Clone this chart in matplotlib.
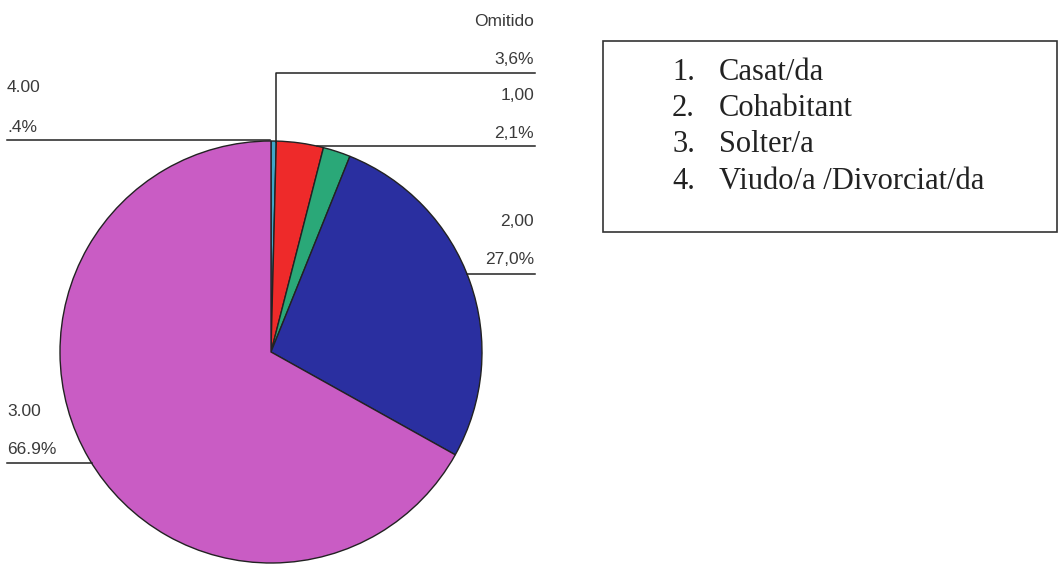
import numpy as np
import matplotlib.pyplot as plt
from matplotlib.patches import Rectangle

# slices in drawing order, clockwise from 12 o'clock
codes = ["4.00", "Omitido", "1,00", "2,00", "3.00"]
pct_labels = [".4%", "3,6%", "2,1%", "27,0%", "66.9%"]
values = [0.4, 3.6, 2.1, 27.0, 66.9]
colors = ["#3fa6c8", "#ee2a2a", "#2aa878", "#2a2fa0", "#c95cc4"]

legend_nums = ["1.", "2.", "3.", "4."]
legend_text = ["Casat/da", "Cohabitant", "Solter/a", "Viudo/a /Divorciat/da"]

W, H = 1060, 567
fig = plt.figure(figsize=(W / 100, H / 100), dpi=100)
ax = fig.add_axes([0, 0, 1, 1])


def py(y):
    # pixel row -> data y
    return H - y


cx, cy, r = 271, py(352), 211
ax.pie(values, colors=colors, startangle=90, counterclock=False,
       center=(cx, cy), radius=r,
       wedgeprops=dict(edgecolor="#222222", linewidth=1.0))
ax.set_xlim(0, W)
ax.set_ylim(0, H)
ax.set_aspect("equal")
ax.axis("off")

lab = dict(fontsize=12.5, family="Liberation Sans", color="#3a3a3a")
lc = dict(color="#222222", lw=1.1)
xr = 535  # right end of right-hand leader lines


def edge_x(y, side):
    # x on the pie outline at data height y
    dy = y - cy
    dx = np.sqrt(max(r * r - dy * dy, 0))
    return cx + side * dx


def right_label(code, pct, y_code, y_pct):
    ax.text(xr - 1, py(y_code), code, ha="right", va="center", **lab)
    ax.text(xr - 1, py(y_pct), pct, ha="right", va="center", **lab)


def left_label(code, pct, y_code, y_pct):
    ax.text(7, py(y_code), code, ha="left", va="center", **lab)
    ax.text(7, py(y_pct), pct, ha="left", va="center", **lab)


# Omitido: rises from the top of the pie, then runs right
x_om = cx + 5
ax.plot([x_om, x_om, xr], [py(142), py(73), py(73)], **lc)
right_label(codes[1], pct_labels[1], 22, 60)

# 1,00
ax.plot([edge_x(py(146), 1), xr], [py(146), py(146)], **lc)
right_label(codes[2], pct_labels[2], 96, 133)

# 4.00
ax.plot([7, cx - 1], [py(140), py(140)], **lc)
left_label(codes[0], pct_labels[0], 87, 128)

# 2,00
ax.plot([edge_x(py(274), 1), xr], [py(274), py(274)], **lc)
right_label(codes[3], pct_labels[3], 222, 259)

# 3.00
ax.plot([7, edge_x(py(463), -1)], [py(463), py(463)], **lc)
left_label(codes[4], pct_labels[4], 412, 449)

# legend box
ax.add_patch(Rectangle((603, py(232)), 454, 191, fill=False,
                       edgecolor="#333333", lw=1.2))
for i, (n, t) in enumerate(zip(legend_nums, legend_text)):
    yy = py(72 + 36.5 * i)
    ax.text(672, yy, n, ha="left", va="center", fontsize=22,
            family="Liberation Serif", color="#222222")
    ax.text(719, yy, t, ha="left", va="center", fontsize=22,
            family="Liberation Serif", color="#222222")

fig.savefig("out.png", dpi=100)
